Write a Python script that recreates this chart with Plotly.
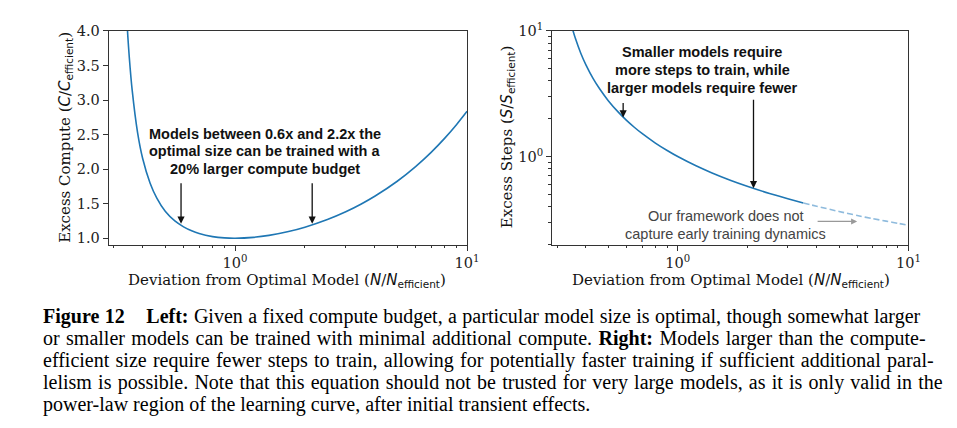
import math
import plotly.graph_objects as go

# ---------------- data ----------------
n_left = [0.34, 0.345, 0.35, 0.36, 0.38, 0.40, 0.43, 0.46, 0.5, 0.55, 0.6, 0.65, 0.7,
          0.8, 0.9, 1.0, 1.2, 1.4, 1.7, 2.0, 2.5, 3.0, 3.5, 4.0, 5.0, 6.0, 7.0, 8.0, 9.0, 10.0]
excess_compute = [4.29, 3.92, 3.62, 3.15, 2.53, 2.15, 1.80, 1.58, 1.39, 1.25, 1.165, 1.107, 1.068,
                  1.024, 1.005, 1.0, 1.013, 1.041, 1.097, 1.160, 1.271, 1.383, 1.496, 1.607,
                  1.825, 2.037, 2.243, 2.445, 2.643, 2.837]

n_right_solid = [0.345, 0.35, 0.36, 0.38, 0.40, 0.43, 0.46, 0.5, 0.55, 0.6, 0.65, 0.7,
                 0.8, 0.9, 1.0, 1.2, 1.4, 1.7, 2.0, 2.5, 3.0, 3.5]
excess_steps_solid = [11.37, 10.34, 8.74, 6.65, 5.37, 4.17, 3.43, 2.785, 2.277, 1.941, 1.703, 1.526,
                      1.280, 1.117, 1.0, 0.844, 0.744, 0.645, 0.580, 0.508, 0.461, 0.427]
n_right_dashed = [3.5, 4.0, 5.0, 6.0, 7.0, 8.0, 9.0, 10.0]
excess_steps_dashed = [0.427, 0.402, 0.365, 0.339, 0.320, 0.306, 0.294, 0.284]

left_arrow_points = [(0.585, 1.21), (2.15, 1.21)]
right_arrow_points = [(0.58, 2.05), (2.13, 0.56)]

major_log_ticks = [1, 10]
major_log_text = ["10<sup>0</sup>", "10<sup>1</sup>"]
minor_x_ticks = [0.3, 0.4, 0.5, 0.6, 0.7, 0.8, 0.9, 2, 3, 4, 5, 6, 7, 8, 9]
minor_y_ticks = [0.2, 0.3, 0.4, 0.5, 0.6, 0.7, 0.8, 0.9, 2, 3, 4, 5, 6, 7, 8, 9]

left_note_lines = ["Models between 0.6x and 2.2x the", "optimal size can be trained with a",
                   "20% larger compute budget"]
right_note_lines = ["Smaller models require", "more steps to train, while", "larger models require fewer"]
gray_note_lines = ["Our framework does not", "capture early training dynamics"]

caption_lines = [
    "<b>Figure 12</b>    <b>Left:</b> Given a fixed compute budget, a particular model size is optimal, though somewhat larger",
    "or smaller models can be trained with minimal additional compute. <b>Right:</b> Models larger than the compute-",
    "efficient size require fewer steps to train, allowing for potentially faster training if sufficient additional paral-",
    "lelism is possible. Note that this equation should not be trusted for very large models, as it is only valid in the",
    "power-law region of the learning curve, after initial transient effects.",
]
caption_word_spacing = [0.4, 1.4, 1.3, 1.2, 0.0]

# ---------------- layout helpers ----------------
W, H = 957, 428
def px(x):
    return x / W
def py(y):
    return 1 - y / H
def lg(v):
    return math.log10(v)

BLUE = "#1f77b4"
SERIF = "DejaVu Serif"
SANS = "Liberation Sans"
MATH = "DejaVu Sans"

fig = go.Figure()
fig.add_trace(go.Scatter(x=n_left, y=excess_compute, mode="lines", xaxis="x", yaxis="y",
                         line=dict(color=BLUE, width=1.6, shape="spline", smoothing=0.6),
                         showlegend=False, hoverinfo="skip"))
fig.add_trace(go.Scatter(x=n_right_solid, y=excess_steps_solid, mode="lines", xaxis="x2", yaxis="y2",
                         line=dict(color=BLUE, width=1.6, shape="spline", smoothing=0.6),
                         showlegend=False, hoverinfo="skip"))
fig.add_trace(go.Scatter(x=n_right_dashed, y=excess_steps_dashed, mode="lines", xaxis="x2", yaxis="y2",
                         line=dict(color="#8fbbdd", width=1.6, dash="6px,3px", shape="spline", smoothing=0.6),
                         showlegend=False, hoverinfo="skip"))

axis_common = dict(showline=True, mirror=True, linecolor="#333", linewidth=1, ticks="outside",
                   ticklen=5, tickcolor="#333", showgrid=False, zeroline=False,
                   tickfont=dict(family=SERIF, size=14.5, color="#222"))
minor_x = dict(tickmode="array", tickvals=minor_x_ticks, ticks="outside", ticklen=2.5,
               tickcolor="#333", showgrid=False)

ydom = [py(241), py(21.5)]
fig.update_layout(
    width=W, height=H, margin=dict(l=0, r=0, t=0, b=0),
    paper_bgcolor="white", plot_bgcolor="white",
    xaxis=dict(domain=[px(110), px(473)], type="log", range=[-0.545, 1.0],
               tickmode="array", tickvals=major_log_ticks, ticktext=major_log_text,
               minor=minor_x, anchor="y", **axis_common),
    yaxis=dict(domain=ydom, range=[0.905, 4.0], tickmode="linear", tick0=1.0, dtick=0.5,
               tickformat=".1f", anchor="x", **axis_common),
    xaxis2=dict(domain=[px(559), px(920)], type="log", range=[-0.545, 1.0],
                tickmode="array", tickvals=major_log_ticks, ticktext=major_log_text,
                minor=minor_x, anchor="y2", **axis_common),
    yaxis2=dict(domain=ydom, type="log", range=[-0.703, 1.0],
                tickmode="array", tickvals=major_log_ticks, ticktext=major_log_text,
                minor=dict(tickmode="array", tickvals=minor_y_ticks, ticks="outside", ticklen=2.5,
                           tickcolor="#333", showgrid=False),
                anchor="x2", **axis_common),
)

ann = []
lbl_font = dict(family=SERIF, size=15, color="#111")
def mathi(s):
    return f"<span style='font-family:{MATH}'><i>{s}</i></span>"
def mathsub(s):
    return f"<sub><span style='font-family:{MATH}'>{s}</span></sub>"

xlabel = "Deviation from Optimal Model (" + mathi("N") + "/" + mathi("N") + mathsub("efficient") + ")"
ann.append(dict(text=xlabel, xref="paper", yref="paper", x=px(291), y=py(277.5), showarrow=False,
                xanchor="center", yanchor="middle", font=lbl_font))
ann.append(dict(text=xlabel, xref="paper", yref="paper", x=px(740), y=py(277.5), showarrow=False,
                xanchor="center", yanchor="middle", font=lbl_font))
ylabel1 = "Excess Compute (" + mathi("C") + "/" + mathi("C") + mathsub("efficient") + ")"
ylabel2 = "Excess Steps (" + mathi("S") + "/" + mathi("S") + mathsub("efficient") + ")"
ann.append(dict(text=ylabel1, xref="paper", yref="paper", x=px(66), y=py(131), showarrow=False,
                textangle=-90, xanchor="center", yanchor="middle", font=lbl_font))
ann.append(dict(text=ylabel2, xref="paper", yref="paper", x=px(514), y=py(131), showarrow=False,
                textangle=-90, xanchor="center", yanchor="middle", font=lbl_font))

bold_font = dict(family=SANS, size=14.5, color="#111")
for line, yy in zip(left_note_lines, [127, 145, 163]):
    ann.append(dict(text=f"<b>{line}</b>", xref="paper", yref="paper", x=px(268), y=py(yy),
                    showarrow=False, xanchor="center", yanchor="middle", font=bold_font))
for line, yy in zip(right_note_lines, [43.5, 62, 80.5]):
    ann.append(dict(text=f"<b>{line}</b>", xref="paper", yref="paper", x=px(711), y=py(yy),
                    showarrow=False, xanchor="center", yanchor="middle", font=bold_font))
for line, yy in zip(gray_note_lines, [211, 229.5]):
    ann.append(dict(text=line, xref="paper", yref="paper", x=px(735), y=py(yy),
                    showarrow=False, xanchor="center", yanchor="middle",
                    font=dict(family=SANS, size=14.5, color="#444")))

for (xv, yv) in left_arrow_points:
    ann.append(dict(text="", x=lg(xv), y=yv, xref="x", yref="y", showarrow=True,
                    axref="pixel", ayref="pixel", ax=0, ay=-42, arrowhead=2, arrowsize=1.1,
                    arrowwidth=1.3, arrowcolor="#111", standoff=0))
tails = [-16, -90]
for (xv, yv), t in zip(right_arrow_points, tails):
    ann.append(dict(text="", x=lg(xv), y=lg(yv), xref="x2", yref="y2", showarrow=True,
                    axref="pixel", ayref="pixel", ax=0, ay=t, arrowhead=2, arrowsize=1.1,
                    arrowwidth=1.3, arrowcolor="#111", standoff=0))
ann.append(dict(text="", x=px(868), y=py(217), xref="paper", yref="paper", showarrow=True,
                axref="pixel", ayref="pixel", ax=-41, ay=0, arrowhead=2, arrowsize=1,
                arrowwidth=1.2, arrowcolor="#999", standoff=0))

cap_font = dict(family="Liberation Serif", size=20, color="#000")
cap_y = [315, 337.5, 360, 382.5, 405]
for line, yy, ws in zip(caption_lines, cap_y, caption_word_spacing):
    txt = f"<span style='word-spacing:{ws}px'>{line}</span>" if ws else line
    ann.append(dict(text=txt, xref="paper", yref="paper", x=px(42), y=py(yy), showarrow=False,
                    xanchor="left", yanchor="middle", align="left", font=cap_font))

fig.update_layout(annotations=ann)
fig.write_html("out.html", config={"displayModeBar": False},
               post_script="document.body.style.margin='0';document.body.style.overflow='hidden';")
